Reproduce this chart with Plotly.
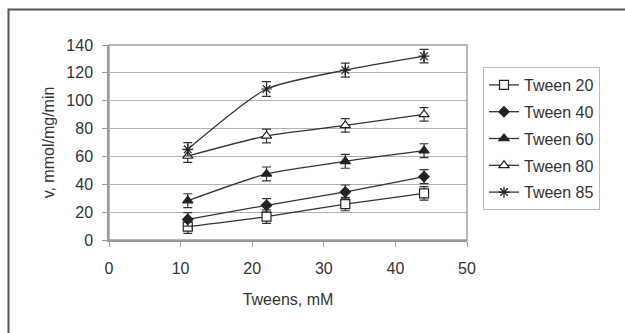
import plotly.graph_objects as go

x_vals = [11, 22, 33, 44]
tween20 = [9.6, 16.8, 25.8, 33.5]
tween40 = [14.8, 24.9, 34.5, 45.5]
tween60 = [28.2, 47.4, 56.5, 64.1]
tween80 = [60.3, 74.7, 82.3, 90.2]
tween85 = [65.1, 108.4, 122.0, 132.0]
err20 = [4.8, 4.8, 4.8, 4.8]
err40 = [4.8, 4.8, 5.0, 5.0]
err60 = [5.0, 5.0, 5.0, 5.0]
err80 = [4.5, 4.9, 4.9, 4.9]
err85 = [4.8, 5.3, 5.0, 4.8]
names = ["Tween 20", "Tween 40", "Tween 60", "Tween 80", "Tween 85"]

series = [tween20, tween40, tween60, tween80, tween85]
errs = [err20, err40, err60, err80, err85]
symbols = ["square", "diamond", "triangle-up", "triangle-up", "asterisk-open"]
fills = ["white", "#222", "#222", "white", "#222"]
sizes = [9, 8, 9, 9, 9]

W, H = 625, 333
L, R, T, B = 109, 467, 45, 240

fig = go.Figure()
for i, (name, ys, er, sym, fc, sz) in enumerate(zip(names, series, errs, symbols, fills, sizes)):
    fig.add_trace(go.Scatter(
        x=x_vals, y=ys, name=name, mode="lines+markers", legendgroup=f"g{i}",
        line=dict(color="#333", width=1.3, shape="spline", smoothing=0.6),
        marker=dict(symbol=sym, size=sz, color=fc, line=dict(color="#222", width=1.2)),
        error_y=dict(type="data", array=er, visible=True, color="#333", thickness=1.2, width=4.5),
    ))

def px_x(p):
    return (p - L) / (R - L)

def px_y(p):
    return (B - p) / (B - T)

fig.add_shape(type="rect", xref="paper", yref="paper",
              x0=px_x(8.5), x1=px_x(700), y0=px_y(9.5), y1=px_y(400),
              line=dict(color="#555", width=2), layer="below")
fig.add_shape(type="rect", xref="paper", yref="paper",
              x0=0, x1=1, y0=0, y1=1,
              line=dict(color="#a0a0a0", width=1.5), layer="below")

font = dict(family="Liberation Sans, Arial, sans-serif", size=16, color="#333")

fig.update_layout(
    width=W, height=H,
    margin=dict(l=L, r=W - R, t=T, b=H - B),
    paper_bgcolor="white", plot_bgcolor="white",
    font=font,
    showlegend=True,
    legend=dict(x=px_x(483), y=px_y(67), xanchor="left", yanchor="top",
                bordercolor="#bbb", borderwidth=1, bgcolor="white",
                font=font, tracegroupgap=3, itemwidth=30),
    xaxis=dict(range=[0, 50], tickvals=[0, 10, 20, 30, 40, 50], showgrid=False,
               zeroline=False, showline=True, linecolor="#999", linewidth=1.5,
               ticks="outside", ticklen=5, tickcolor="#999", ticklabelstandoff=8,
               title=dict(text="Tweens, mM", font=font, standoff=18)),
    yaxis=dict(range=[0, 140], tickvals=[0, 20, 40, 60, 80, 100, 120, 140],
               showgrid=True, gridcolor="#b0b0b0", gridwidth=1, zeroline=False,
               showline=True, linecolor="#999", linewidth=1.5,
               ticks="outside", ticklen=5, tickcolor="#999", ticklabelstandoff=6,
               title=dict(text="v, mmol/mg/min", font=font, standoff=8)),
)

fig.write_html("out.html")
